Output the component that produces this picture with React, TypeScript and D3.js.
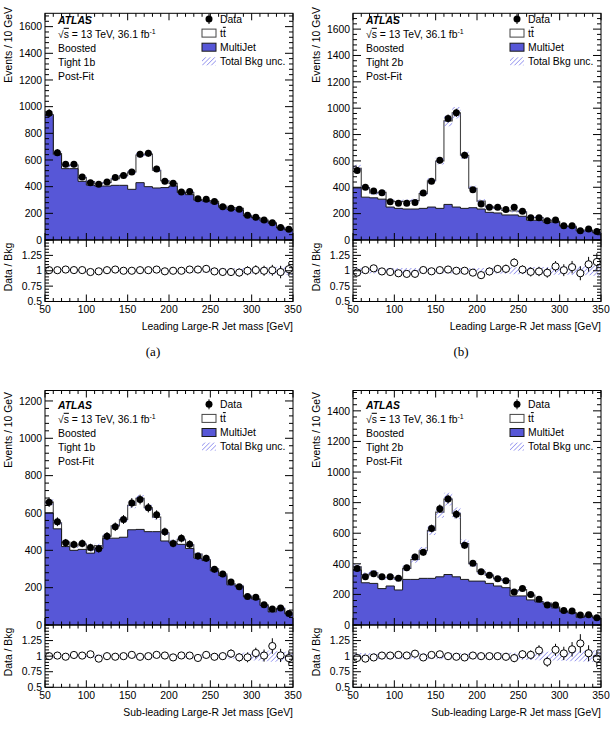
import React from "react";
import * as d3 from "d3";

// ---------------- data ----------------
const BIN_LOW = [50, 60, 70, 80, 90, 100, 110, 120, 130, 140, 150, 160, 170, 180, 190, 200, 210, 220, 230, 240, 250, 260, 270, 280, 290, 300, 310, 320, 330, 340];
const BIN_WIDTH = 10;
const X_DOMAIN = [50, 350];
const X_TICKS = [50, 100, 150, 200, 250, 300, 350];
const RATIO_TICKS = [0.5, 0.75, 1, 1.25];
const RATIO_TICK_LABELS = ["0.5", "0.75", "1", "1.25"];

// (a) Leading jet, Tight 1b
const DATA_A = [950, 655, 568, 568, 473, 430, 418, 435, 468, 483, 510, 643, 650, 533, 440, 425, 360, 363, 310, 305, 288, 250, 238, 230, 185, 170, 150, 130, 93, 80];
const MJ_A = [935, 640, 535, 535, 440, 412, 405, 405, 410, 410, 380, 430, 400, 390, 393, 405, 355, 340, 298, 292, 278, 245, 230, 225, 180, 165, 143, 125, 90, 74];
const TT_A = [6, 9, 22, 27, 28, 27, 17, 26, 49, 73, 130, 207, 244, 133, 51, 20, 5, 16, 6, 4, 13, 10, 13, 12, 5, 3, 7, 4, 5, 4];
const UNC_A = [0.025, 0.025, 0.025, 0.025, 0.025, 0.025, 0.025, 0.025, 0.025, 0.025, 0.025, 0.025, 0.025, 0.025, 0.025, 0.025, 0.03, 0.03, 0.03, 0.03, 0.035, 0.035, 0.04, 0.04, 0.045, 0.05, 0.055, 0.06, 0.065, 0.07];
const YTICKS_A = [0, 200, 400, 600, 800, 1000, 1200, 1400, 1600];

// (b) Leading jet, Tight 2b
const DATA_B = [528, 401, 371, 358, 290, 279, 279, 284, 356, 445, 605, 922, 965, 643, 381, 274, 249, 249, 231, 249, 218, 168, 168, 147, 152, 109, 109, 71, 84, 64];
const MJ_B = [395, 325, 320, 310, 250, 240, 235, 235, 240, 250, 240, 270, 250, 240, 245, 235, 210, 205, 190, 190, 180, 150, 150, 135, 135, 105, 100, 68, 70, 55];
const TT_B = [149, 72, 37, 52, 46, 51, 59, 64, 112, 199, 359, 634, 715, 403, 148, 60, 42, 37, 34, 30, 34, 21, 20, 17, 7, 3, 3, 6, 6, 1];
const UNC_B = [0.05, 0.045, 0.045, 0.045, 0.045, 0.045, 0.045, 0.045, 0.045, 0.045, 0.045, 0.045, 0.045, 0.045, 0.045, 0.045, 0.05, 0.05, 0.05, 0.055, 0.055, 0.06, 0.06, 0.06, 0.065, 0.065, 0.07, 0.07, 0.075, 0.08];
const YTICKS_B = [0, 200, 400, 600, 800, 1000, 1200, 1400, 1600];

// (c) Sub-leading jet, Tight 1b
const DATA_C = [658, 553, 440, 431, 437, 415, 408, 476, 526, 565, 654, 672, 628, 590, 499, 437, 464, 433, 369, 357, 298, 273, 230, 205, 152, 148, 109, 86, 91, 62];
const MJ_C = [600, 515, 420, 400, 405, 385, 410, 465, 465, 470, 510, 512, 500, 500, 450, 440, 432, 410, 358, 345, 290, 265, 215, 205, 150, 138, 105, 70, 88, 60];
const TT_C = [58, 33, 24, 23, 28, 18, 15, 11, 66, 95, 131, 167, 128, 78, 44, 6, 27, 19, 22, 5, 11, 8, 6, 4, 5, 3, 3, 4, 2, 4];
const UNC_C = [0.025, 0.025, 0.025, 0.025, 0.025, 0.025, 0.025, 0.025, 0.025, 0.025, 0.025, 0.025, 0.025, 0.025, 0.025, 0.025, 0.025, 0.025, 0.03, 0.03, 0.03, 0.035, 0.04, 0.05, 0.06, 0.07, 0.08, 0.09, 0.08, 0.07];
const YTICKS_C = [0, 200, 400, 600, 800, 1000, 1200];

// (d) Sub-leading jet, Tight 2b
const DATA_D = [369, 315, 335, 315, 315, 305, 374, 445, 475, 631, 760, 823, 724, 521, 404, 348, 326, 302, 289, 216, 238, 199, 168, 130, 130, 95, 91, 65, 67, 48];
const MJ_D = [360, 276, 272, 238, 255, 229, 298, 298, 305, 305, 315, 330, 315, 298, 287, 287, 272, 255, 244, 190, 190, 164, 151, 136, 112, 88, 78, 50, 58, 45];
const TT_D = [20, 52, 70, 74, 57, 70, 72, 130, 180, 314, 423, 493, 416, 234, 113, 61, 54, 47, 48, 33, 41, 31, 3, 7, 6, 3, 4, 4, 6, 5];
const UNC_D = [0.05, 0.05, 0.05, 0.05, 0.05, 0.05, 0.05, 0.05, 0.05, 0.05, 0.05, 0.05, 0.05, 0.05, 0.05, 0.05, 0.05, 0.05, 0.055, 0.055, 0.06, 0.06, 0.065, 0.07, 0.07, 0.075, 0.08, 0.085, 0.09, 0.09];
const YTICKS_D = [0, 200, 400, 600, 800, 1000, 1200, 1400];

// ---------------- style ----------------
const FONT = "'Liberation Sans', Arial, Helvetica, sans-serif";
const FS = 10.4;
const MJ_COLOR = "#5757d7";
const HATCH_COLOR = "#6a6ae8";

type PanelProps = {
  L: number; R: number; T: number; B0: number; RB: number;
  yMax: number; yTicks: number[];
  data: number[]; mj: number[]; tt: number[]; unc: number[];
  xTitle: string; region: string; letter: string;
  textTop: number; legTop: number; yTitleEnd: number;
};

function Panel(p: PanelProps) {
  const { L, R, T, B0, RB, yMax, yTicks, data, mj, tt, unc } = p;
  const x = d3.scaleLinear().domain(X_DOMAIN).range([L, R]);
  const y = d3.scaleLinear().domain([0, yMax]).range([B0, T]);
  const yr = d3.scaleLinear().domain([0.5, 1.5]).range([RB, B0]);
  const total = mj.map((v, i) => v + tt[i]);

  type Pt = { x: number; v: number; lo: number; hi: number };
  const stepPts = (vals: number[], lo?: number[], hi?: number[]): Pt[] => {
    const pts = BIN_LOW.map((b, i) => ({ x: b, v: vals[i], lo: lo ? lo[i] : 0, hi: hi ? hi[i] : 0 }));
    const n = vals.length - 1;
    pts.push({ x: BIN_LOW[n] + BIN_WIDTH, v: vals[n], lo: lo ? lo[n] : 0, hi: hi ? hi[n] : 0 });
    return pts;
  };
  const fillArea = d3.area<Pt>().x(d => x(d.x)).y0(B0).y1(d => y(d.v)).curve(d3.curveStepAfter);
  const stepLine = d3.line<Pt>().x(d => x(d.x)).y(d => y(d.v)).curve(d3.curveStepAfter);
  const bandArea = d3.area<Pt>().x(d => x(d.x)).y0(d => y(d.lo)).y1(d => y(d.hi)).curve(d3.curveStepAfter);
  const rBandArea = d3.area<Pt>().x(d => x(d.x)).y0(d => yr(d.lo)).y1(d => yr(d.hi)).curve(d3.curveStepAfter);

  const totPts = stepPts(total);
  const mjPts = stepPts(mj);
  const bandPts = stepPts(total, total.map((t, i) => t * (1 - unc[i])), total.map((t, i) => t * (1 + unc[i])));
  const rBandPts = stepPts(total, unc.map(u => 1 - u), unc.map(u => 1 + u));

  const clipId = `clip-${p.letter}`;
  const clipRId = `clipr-${p.letter}`;

  // ticks
  const xMinor = d3.range(X_DOMAIN[0], X_DOMAIN[1] + 0.1, 10);
  const yStep = yTicks[1] - yTicks[0];
  const yMinor = d3.range(0, yMax, yStep / 5);
  const rMinor = d3.range(0.5, 1.5001, 0.05);

  const tickEls: React.ReactNode[] = [];
  const isMajorX = (v: number) => X_TICKS.includes(v);
  xMinor.forEach((v, i) => {
    const len = isMajorX(v) ? 7 : 3.5;
    const xx = x(v);
    tickEls.push(<line key={`xt${i}`} x1={xx} x2={xx} y1={T} y2={T + len} />);
    tickEls.push(<line key={`xb${i}`} x1={xx} x2={xx} y1={B0} y2={B0 - len} />);
    tickEls.push(<line key={`rt${i}`} x1={xx} x2={xx} y1={B0} y2={B0 + len} />);
    tickEls.push(<line key={`rb${i}`} x1={xx} x2={xx} y1={RB} y2={RB - len} />);
  });
  yMinor.forEach((v, i) => {
    const major = Math.abs(v / yStep - Math.round(v / yStep)) < 1e-6;
    const len = major ? 8 : 4;
    const yy = y(v);
    tickEls.push(<line key={`yl${i}`} x1={L} x2={L + len} y1={yy} y2={yy} />);
    tickEls.push(<line key={`yr${i}`} x1={R} x2={R - len} y1={yy} y2={yy} />);
  });
  rMinor.forEach((v, i) => {
    const major = RATIO_TICKS.some(t => Math.abs(t - v) < 1e-6);
    const len = major ? 8 : 4;
    const yy = yr(v);
    tickEls.push(<line key={`ryl${i}`} x1={L} x2={L + len} y1={yy} y2={yy} />);
    tickEls.push(<line key={`ryr${i}`} x1={R} x2={R - len} y1={yy} y2={yy} />);
  });

  const lx = L + 157; // legend box left
  const tx = L + 175; // legend text x
  const rowGap = 14.1;

  return (
    <g>
      <defs>
        <clipPath id={clipId}><rect x={L} y={T} width={R - L} height={B0 - T} /></clipPath>
        <clipPath id={clipRId}><rect x={L} y={B0} width={R - L} height={RB - B0} /></clipPath>
      </defs>

      {/* stacked histograms */}
      <g clipPath={`url(#${clipId})`}>
        <path d={fillArea(totPts) || ""} fill="#ffffff" />
        <path d={stepLine(totPts) || ""} fill="none" stroke="#444" strokeWidth={1.1} />
        <path d={fillArea(mjPts) || ""} fill={MJ_COLOR} />
        <path d={stepLine(mjPts) || ""} fill="none" stroke="#1a1a1a" strokeWidth={1} />
        <path d={bandArea(bandPts) || ""} fill="url(#hatch)" />
        {data.map((v, i) => {
          const cx = x(BIN_LOW[i] + BIN_WIDTH / 2);
          const err = Math.sqrt(v);
          return (
            <g key={`d${i}`}>
              <line x1={cx} x2={cx} y1={y(v - err)} y2={y(v + err)} stroke="#000" strokeWidth={1} />
              <circle cx={cx} cy={y(v)} r={3.5} fill="#000" />
            </g>
          );
        })}
      </g>

      {/* ratio */}
      <g clipPath={`url(#${clipRId})`}>
        <path d={rBandArea(rBandPts) || ""} fill="url(#hatch)" />
        {data.map((v, i) => {
          const cx = x(BIN_LOW[i] + BIN_WIDTH / 2);
          const r = v / total[i];
          const e = Math.sqrt(v) / total[i];
          return (
            <g key={`r${i}`}>
              <line x1={cx} x2={cx} y1={yr(r - e)} y2={yr(r + e)} stroke="#000" strokeWidth={1} />
              <circle cx={cx} cy={yr(r)} r={3.6} fill="#fff" stroke="#000" strokeWidth={1} />
            </g>
          );
        })}
      </g>

      {/* frames and ticks */}
      <g stroke="#000" strokeWidth={1} fill="none">
        <rect x={L} y={T} width={R - L} height={B0 - T} />
        <rect x={L} y={B0} width={R - L} height={RB - B0} />
        {tickEls}
      </g>

      {/* tick labels */}
      <g fontFamily={FONT} fontSize={FS} fill="#000">
        {yTicks.map(v => (
          <text key={`yl${v}`} x={L - 3} y={y(v) + 3.7} textAnchor="end">{v}</text>
        ))}
        {RATIO_TICKS.map((v, i) => (
          <text key={`rl${v}`} x={L - 3} y={yr(v) + 3.7} textAnchor="end">{RATIO_TICK_LABELS[i]}</text>
        ))}
        {X_TICKS.map(v => (
          <text key={`xl${v}`} x={x(v)} y={RB + 11.8} textAnchor="middle">{v}</text>
        ))}
        <text x={R} y={RB + 28.5} textAnchor="end">{p.xTitle}</text>
        <text transform={`translate(${L - 33},${p.yTitleEnd}) rotate(-90)`} textAnchor="end">Events / 10 GeV</text>
        <text transform={`translate(${L - 33},${B0 + 27}) rotate(-90)`} textAnchor="middle">Data / Bkg</text>
      </g>

      {/* ATLAS label block */}
      <g fontFamily={FONT} fontSize={FS} fill="#000">
        <text x={L + 13} y={p.textTop} fontWeight="bold" fontStyle="italic">ATLAS</text>
        <text x={L + 13} y={p.textTop + 13.8}>
          <tspan>√</tspan>
          <tspan style={{ textDecoration: "overline" }}>s</tspan>
          <tspan> = 13 TeV, 36.1 fb</tspan>
          <tspan dy={-4} fontSize={7}>-1</tspan>
        </text>
        <text x={L + 13} y={p.textTop + 27.9}>Boosted</text>
        <text x={L + 13} y={p.textTop + 42}>{p.region}</text>
        <text x={L + 13} y={p.textTop + 56.2}>Post-Fit</text>
      </g>

      {/* legend */}
      <g fontFamily={FONT} fontSize={FS} fill="#000">
        <line x1={lx + 7} x2={lx + 7} y1={p.legTop - 5} y2={p.legTop + 5} stroke="#000" strokeWidth={1} />
        <circle cx={lx + 7} cy={p.legTop} r={3.5} fill="#000" />
        <text x={tx} y={p.legTop + 3.7}>Data</text>

        <rect x={lx} y={p.legTop + rowGap - 4} width={14} height={8} fill="#fff" stroke="#444" strokeWidth={1} />
        <text x={tx} y={p.legTop + rowGap + 3.7}>
          <tspan>t</tspan>
          <tspan style={{ textDecoration: "overline" }}>t</tspan>
        </text>

        <rect x={lx} y={p.legTop + 2 * rowGap - 4} width={14} height={8} fill={MJ_COLOR} stroke="#1a1a1a" strokeWidth={1} />
        <text x={tx} y={p.legTop + 2 * rowGap + 3.7}>MultiJet</text>

        <rect x={lx} y={p.legTop + 3 * rowGap - 4} width={14} height={8} fill="url(#hatch)" />
        <text x={tx} y={p.legTop + 3 * rowGap + 3.7}>Total Bkg unc.</text>
      </g>

      {/* sub-figure letter */}
      <text x={L + 108} y={RB + 54} textAnchor="middle" fontFamily="'Liberation Serif', 'Times New Roman', serif" fontSize={13}>{p.letter}</text>
    </g>
  );
}

export default function App() {
  return (
    <svg width={610} height={732} viewBox="0 0 610 732" style={{ position: "absolute", left: 0, top: 0, background: "#fff" }}>
      <defs>
        <pattern id="hatch" patternUnits="userSpaceOnUse" width={3.2} height={3.2} patternTransform="rotate(45)">
          <line x1={0} y1={0} x2={0} y2={3.2} stroke={HATCH_COLOR} strokeWidth={1.1} />
        </pattern>
      </defs>
      <rect x={0} y={0} width={610} height={732} fill="#fff" />
      <Panel L={45} R={293} T={13.3} B0={240} RB={301.5} yMax={1700} yTicks={YTICKS_A}
        data={DATA_A} mj={MJ_A} tt={TT_A} unc={UNC_A}
        xTitle="Leading Large-R Jet mass [GeV]" region="Tight 1b" letter="(a)"
        textTop={24} legTop={19} yTitleEnd={7} />
      <Panel L={353} R={601} T={13.3} B0={240} RB={301.5} yMax={1720} yTicks={YTICKS_B}
        data={DATA_B} mj={MJ_B} tt={TT_B} unc={UNC_B}
        xTitle="Leading Large-R Jet mass [GeV]" region="Tight 2b" letter="(b)"
        textTop={24} legTop={19} yTitleEnd={7} />
      <Panel L={45} R={293} T={390.5} B0={625} RB={687.3} yMax={1256} yTicks={YTICKS_C}
        data={DATA_C} mj={MJ_C} tt={TT_C} unc={UNC_C}
        xTitle="Sub-leading Large-R Jet mass [GeV]" region="Tight 1b" letter="(c)"
        textTop={409} legTop={404.3} yTitleEnd={392} />
      <Panel L={353} R={601} T={390.5} B0={625} RB={687.3} yMax={1533} yTicks={YTICKS_D}
        data={DATA_D} mj={MJ_D} tt={TT_D} unc={UNC_D}
        xTitle="Sub-leading Large-R Jet mass [GeV]" region="Tight 2b" letter="(d)"
        textTop={409} legTop={404.3} yTitleEnd={392} />
    </svg>
  );
}
